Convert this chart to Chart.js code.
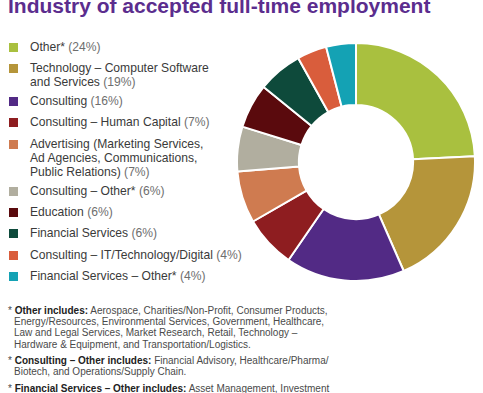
<!DOCTYPE html>
<html><head><meta charset="utf-8">
<script src="https://cdn.jsdelivr.net/npm/chart.js@4"></script>
<style>
html,body{margin:0;padding:0;background:#fff;width:483px;height:393px;overflow:hidden;position:relative;font-family:"Liberation Sans",Arial,sans-serif;}
#title{position:absolute;left:8px;top:-6px;font-size:21px;font-weight:bold;color:#5b2d8e;white-space:nowrap;}
#legend{position:absolute;left:0;top:0;}
.li{position:absolute;left:30px;font-size:12.1px;color:#3a3a3a;line-height:14px;white-space:nowrap;}
.sw{position:absolute;left:-21px;width:9px;height:9px;}
.pc{color:#6e6e6e;}
#wrap{position:absolute;left:236px;top:42px;width:240px;height:240px;}
#notes{position:absolute;left:8px;top:305px;font-size:10px;color:#4a4a4a;line-height:11.2px;white-space:nowrap;}
#notes p{margin:0 0 5.3px 0;padding-left:6px;text-indent:-6px;}
#notes b{color:#222;}
</style></head><body>
<div id="title">Industry of accepted full-time employment</div>
<div id="legend"></div>
<div id="wrap"><canvas id="c"></canvas></div>
<div id="notes">
<p>* <b>Other includes:</b> Aerospace, Charities/Non-Profit, Consumer Products,<br>Energy/Resources, Environmental Services, Government, Healthcare,<br>Law and Legal Services, Market Research, Retail, Technology –<br>Hardware &amp; Equipment, and Transportation/Logistics.</p>
<p>* <b>Consulting – Other includes:</b> Financial Advisory, Healthcare/Pharma/<br>Biotech, and Operations/Supply Chain.</p>
<p>* <b>Financial Services – Other includes:</b> Asset Management, Investment</p>
</div>
<script>
const categories = [
  ["Other*"],
  ["Technology – Computer Software", "and Services"],
  ["Consulting"],
  ["Consulting – Human Capital"],
  ["Advertising (Marketing Services,", "Ad Agencies, Communications,", "Public Relations)"],
  ["Consulting – Other*"],
  ["Education"],
  ["Financial Services"],
  ["Consulting – IT/Technology/Digital"],
  ["Financial Services – Other* "]
];
const shares = [24, 19, 16, 7, 7, 6, 6, 6, 4, 4];
const colors = ["#a9c03f","#b5953a","#522a85","#8e1d20","#cf7b50","#b1ae9f","#5a0a0d","#0e4a3b","#d95d3c","#14a2b4"];
const legendTops = [40, 61, 94, 115, 137, 184, 205, 226, 248, 269];

const leg = document.getElementById('legend');
categories.forEach((lines, i) => {
  const d = document.createElement('div');
  d.className = 'li';
  d.style.top = legendTops[i] + 'px';
  d.innerHTML = lines.map((l, k) => k === lines.length - 1 ? l + ' <span class="pc">(' + shares[i] + '%)</span>' : l).join('<br>');
  const s = document.createElement('div');
  s.className = 'sw';
  s.style.background = colors[i];
  s.style.top = '3px';
  d.appendChild(s);
  leg.appendChild(d);
});

new Chart(document.getElementById('c'), {
  type: 'doughnut',
  data: {
    labels: categories.map(l => l.join(' ')),
    datasets: [{ data: shares, backgroundColor: colors, borderColor: '#ffffff', borderWidth: 2 }]
  },
  options: {
    responsive: true, maintainAspectRatio: false, animation: false,
    cutout: '48%',
    plugins: { legend: { display: false }, tooltip: { enabled: false } }
  }
});
</script>
</body></html>
